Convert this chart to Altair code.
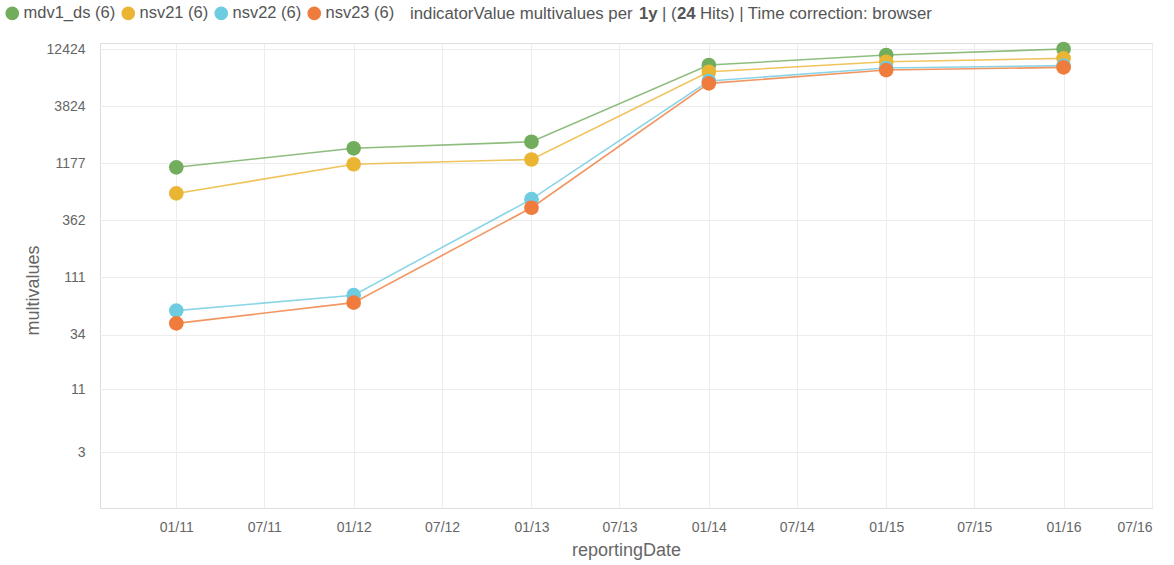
import altair as alt
import pandas as pd

# yearly reporting dates and the multivalues of each indicator series
dates = ["2011-01-01", "2012-01-01", "2013-01-01", "2014-01-01", "2015-01-01", "2016-01-01"]
mdv1_ds = [1080, 1600, 1830, 8930, 10980, 12424]
nsv21 = [630, 1150, 1270, 7770, 9550, 10250]
nsv22 = [56, 77, 560, 6420, 8400, 8830]
nsv23 = [43, 66, 469, 6120, 8050, 8510]

series_names = ["mdv1_ds", "nsv21", "nsv22", "nsv23"]
series_colors = ["#72ad5e", "#ebb534", "#6ecbe0", "#ef7c3c"]
hit_counts = [6, 6, 6, 6]

y_ticks = [12424, 3824, 1177, 362, 111, 34, 11, 3]
x_ticks = [(y, m) for y in range(2011, 2017) for m in (1, 7)]

rows = []
for name, vals in zip(series_names, [mdv1_ds, nsv21, nsv22, nsv23]):
    for d, v in zip(dates, vals):
        rows.append({"series": name, "reportingDate": d, "multivalues": v})
df = pd.DataFrame(rows)

font = "Liberation Sans"
grey = "#666666"

label_expr = " + ".join(
    f"(datum.label == '{n}' ? '{n} ({c})' : '')" for n, c in zip(series_names, hit_counts)
)

x_enc = alt.X(
    "reportingDate:T",
    title="reportingDate",
    scale=alt.Scale(
        type="utc",
        domain=[alt.DateTime(year=2010, month=7, date=28, utc=True),
                alt.DateTime(year=2016, month=7, date=1, utc=True)],
    ),
    axis=alt.Axis(
        values=[alt.DateTime(year=y, month=m, date=1, utc=True) for y, m in x_ticks],
        labelExpr="utcFormat(datum.value, '%m/%y')",
        domain=False,
        ticks=False,
        labelPadding=12,
        labelFontSize=14,
        labelColor=grey,
        labelFont=font,
        titleFont=font,
        titleFontSize=18,
        titleFontWeight="normal",
        titleColor=grey,
        titlePadding=7,
        gridColor="#ececec",
    ),
)

y_enc = alt.Y(
    "multivalues:Q",
    title="multivalues",
    scale=alt.Scale(type="log", domain=[0.95, 14080]),
    axis=alt.Axis(
        values=y_ticks,
        format="d",
        domain=False,
        ticks=False,
        labelPadding=15,
        labelFontSize=14,
        labelColor=grey,
        labelFont=font,
        titleFont=font,
        titleFontSize=18,
        titleFontWeight="normal",
        titleColor=grey,
        titleBaseline="middle",
        titleX=-67,
        titleY=247,
        gridColor="#ececec",
    ),
)

color_enc = alt.Color(
    "series:N",
    scale=alt.Scale(domain=series_names, range=series_colors),
    legend=alt.Legend(
        title=None,
        orient="none",
        legendX=-96,
        legendY=-38,
        direction="horizontal",
        symbolType="circle",
        symbolSize=185,
        symbolStrokeWidth=0,
        symbolOpacity=1,
        labelFont=font,
        labelFontSize=16.5,
        labelColor="#555555",
        labelOffset=3,
        columnPadding=4,
        labelExpr=label_expr,
    ),
)

order_enc = alt.Order("order:Q")

base = alt.Chart(df).transform_calculate(
    order=f"indexof({series_names}, datum.series)"
)

lines = base.mark_line(strokeWidth=1.6, opacity=0.8).encode(
    x=x_enc, y=y_enc, color=color_enc, detail="series:N"
)
points = base.mark_circle(size=215, opacity=1).encode(
    x=x_enc, y=y_enc, color=color_enc, order=order_enc
)

header_size = 16.8
header_parts = [
    ("indicatorValue multivalues per", "normal", 310),
    ("1y", "bold", 539),
    ("| (", "normal", 562),
    ("24", "bold", 577),
    ("Hits) | Time correction: browser", "normal", 600),
]
header_layers = []
for text, weight, xpos in header_parts:
    header_layers.append(
        alt.Chart(pd.DataFrame({"t": [text]})).mark_text(
            align="left", baseline="middle", font=font, fontSize=header_size,
            fontWeight=weight, color="#555555",
        ).encode(text="t:N", x=alt.value(xpos), y=alt.value(-29))
    )

chart = alt.layer(lines, points, *header_layers).properties(
    width=1052,
    height=465,
    autosize=alt.AutoSizeParams(type="none"),
    padding={"left": 100, "top": 43, "right": 22, "bottom": 57},
).configure_view(stroke=None).configure(background="white")

chart.save("out.html", embed_options={"renderer": "svg", "actions": False})
